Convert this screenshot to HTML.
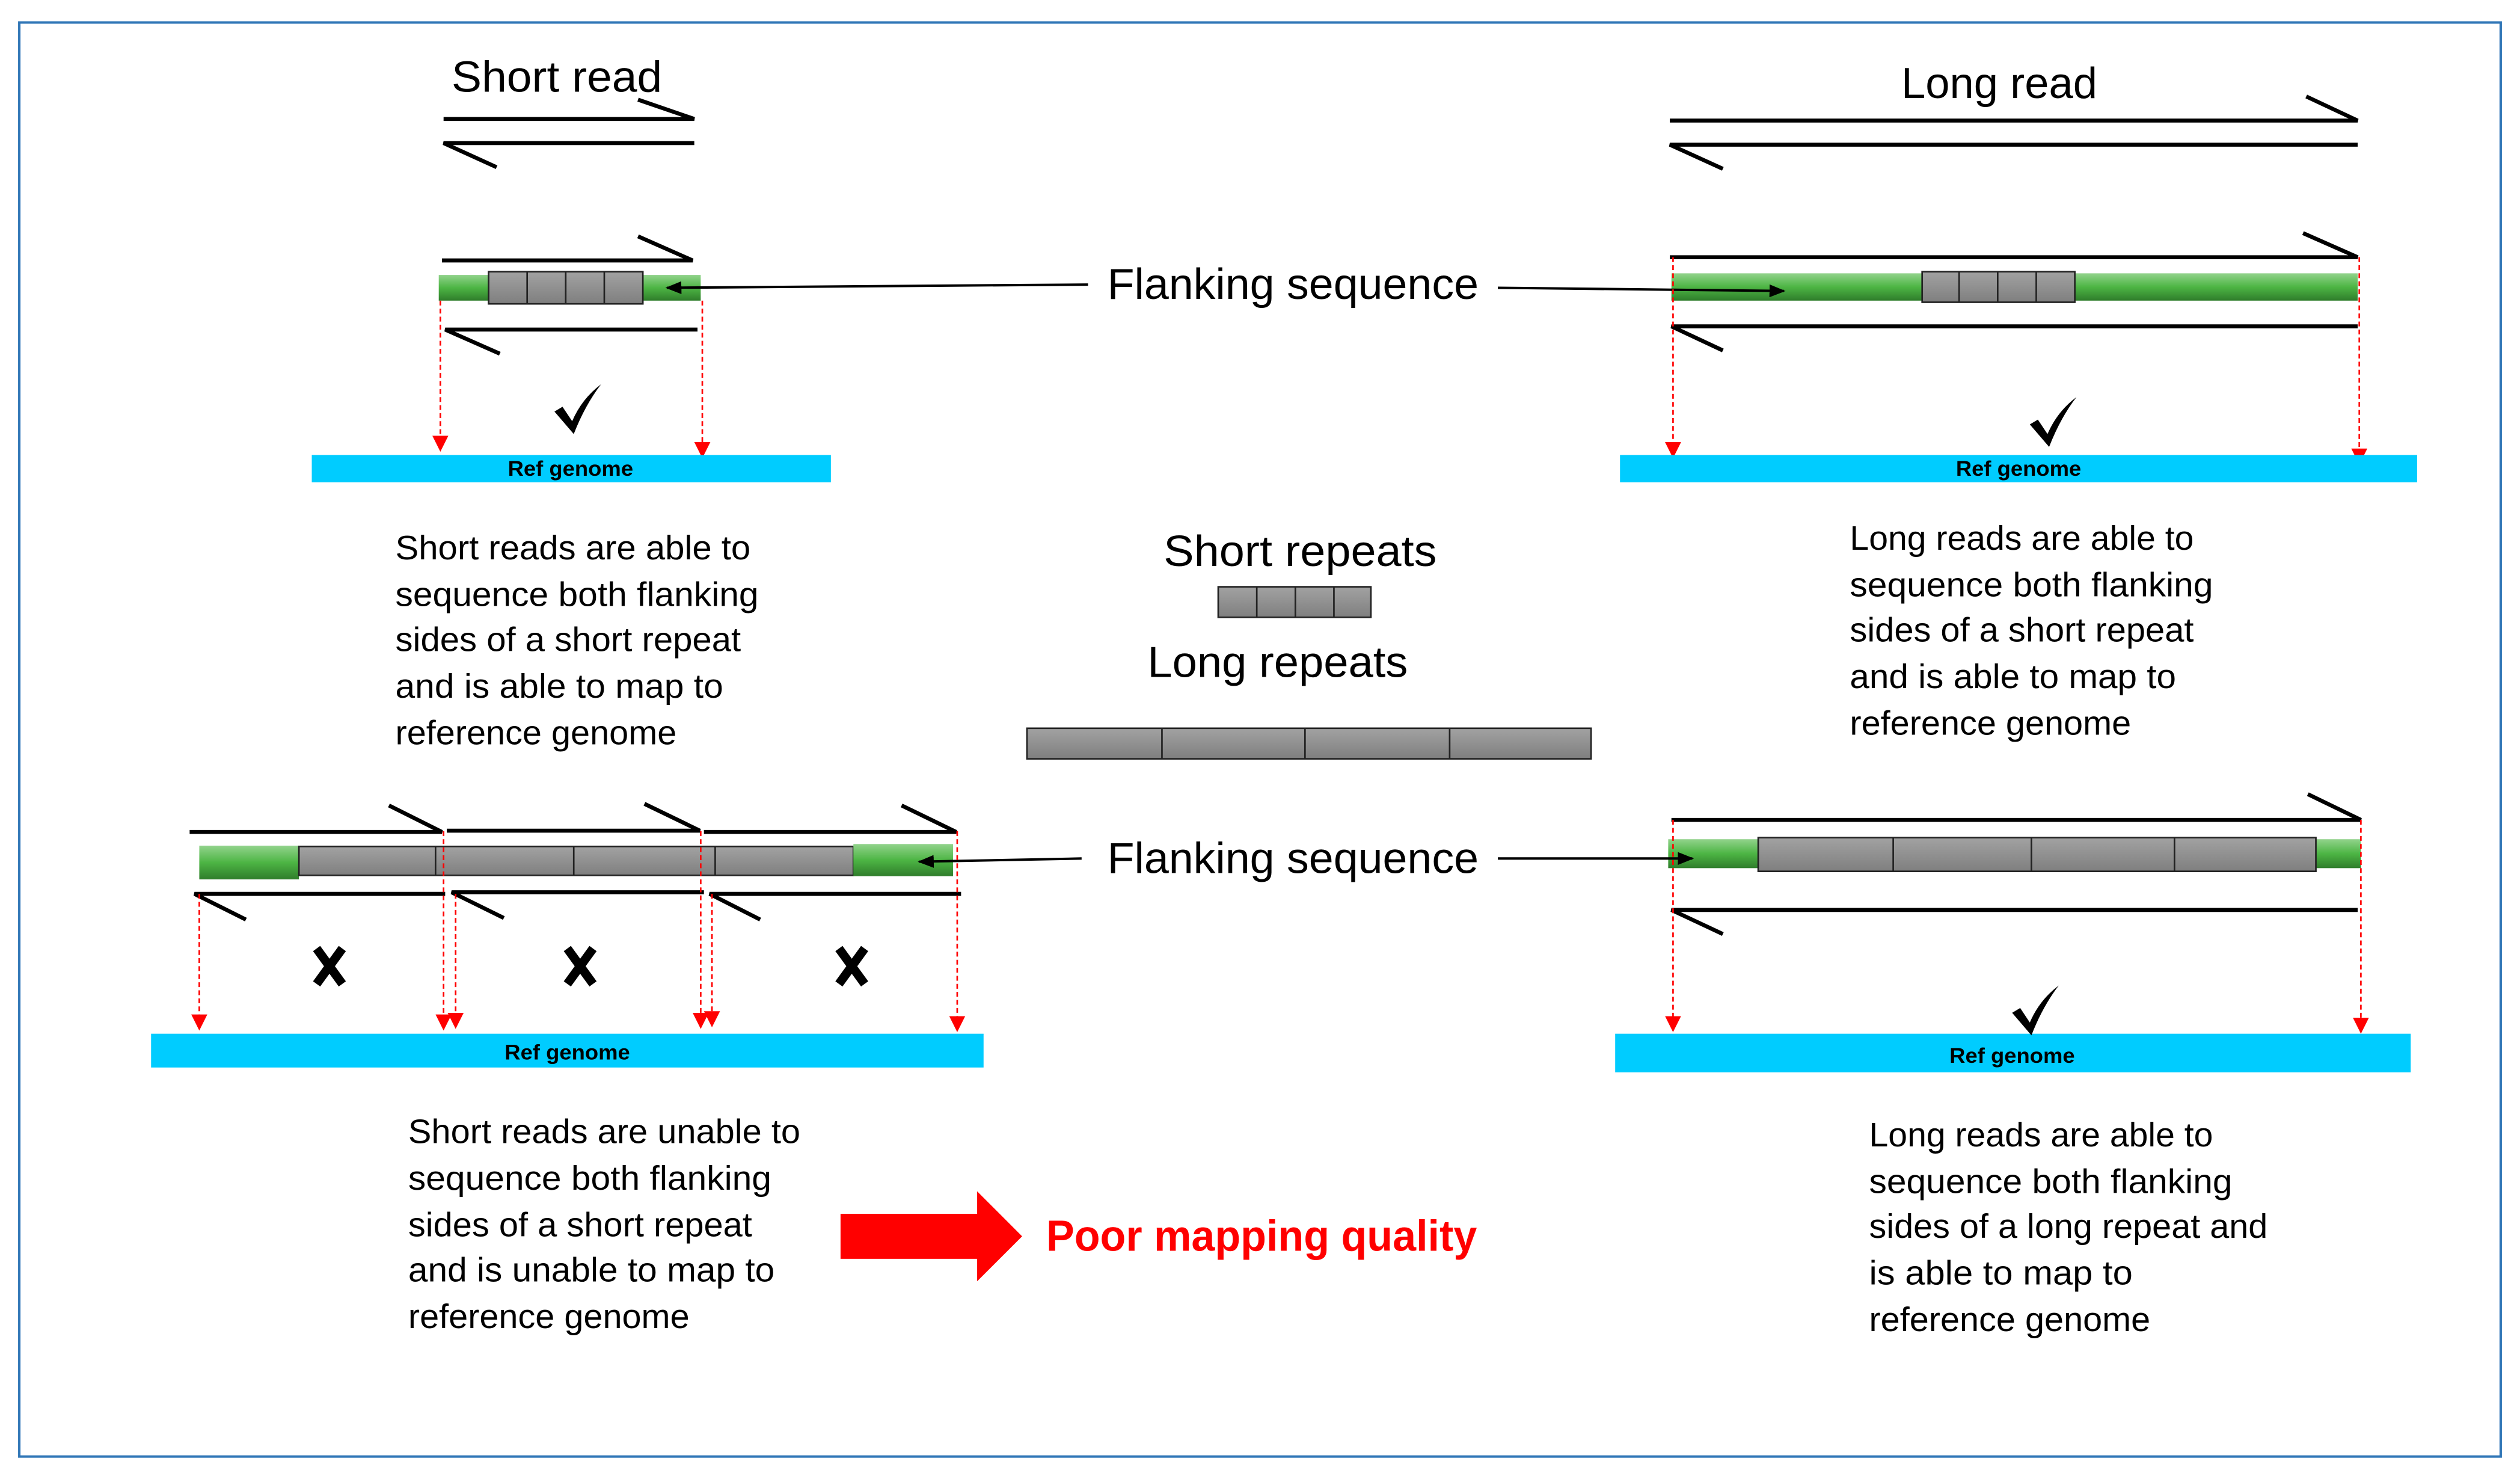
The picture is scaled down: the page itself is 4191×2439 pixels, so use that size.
<!DOCTYPE html>
<html><head><meta charset="utf-8"><style>html,body{margin:0;padding:0;background:#fff}svg{display:block}</style></head><body>
<svg width="4191" height="2439" viewBox="0 0 1568 912.5" preserveAspectRatio="none" xmlns="http://www.w3.org/2000/svg" font-family="Liberation Sans, sans-serif">
<defs>
<linearGradient id="g" x1="0" y1="0" x2="0" y2="1"><stop offset="0" stop-color="#92d38c"/><stop offset="0.5" stop-color="#4db544"/><stop offset="1" stop-color="#2f7d2b"/></linearGradient>
<linearGradient id="k" x1="0" y1="0" x2="0" y2="1"><stop offset="0" stop-color="#a2a2a2"/><stop offset="1" stop-color="#7f7f7f"/></linearGradient>
<marker id="ab" markerWidth="10" markerHeight="8" refX="9" refY="4" orient="auto" markerUnits="userSpaceOnUse"><path d="M0,0 L10,4 L0,8 Z" fill="#000"/></marker>
<marker id="ar" markerWidth="10" markerHeight="10" refX="5" refY="9" orient="0" markerUnits="userSpaceOnUse"><path d="M0,0 L10,0 L5,10 Z" fill="#f00"/></marker>
</defs>
<rect x="12" y="14" width="1544" height="892" fill="none" stroke="#2e75b6" stroke-width="1.5"/>

<g stroke="#000" stroke-width="2.5" fill="none">
<!-- short read legend -->
<path d="M276,74 H432 L397,62"/><path d="M432,89 H276 L309,104"/>
<!-- long read legend -->
<path d="M1039,75 H1467 L1435,60"/><path d="M1467,90 H1039 L1072,105"/>
<!-- top-left reads -->
<path d="M275,162 H431 L397,147"/><path d="M434,205 H277 L311,220"/>
<!-- top-right reads -->
<path d="M1039,160 H1467 L1433,145"/><path d="M1467,203 H1040 L1072,218"/>
<!-- bottom-left reads -->
<path d="M118,517.5 H275 L242,501"/><path d="M278,516.7 H435.5 L401,500"/><path d="M438,517.5 H595 L561,501"/>
<path d="M277,556 H121 L153,572"/><path d="M438,555 H281 L313.5,571"/><path d="M598,556 H441.5 L473,572"/>
<!-- bottom-right reads -->
<path d="M1040,510 H1469 L1436,494"/><path d="M1467,566 H1040 L1072,581"/>
</g>

<!-- bars -->
<rect x="273" y="171" width="163" height="16" fill="url(#g)"/>
<g fill="url(#k)" stroke="#222" stroke-width="1"><rect x="304" y="169" width="96" height="20"/></g>
<g stroke="#222" stroke-width="1"><path d="M328,169V189M352,169V189M376,169V189"/></g>

<rect x="1040" y="170" width="427" height="17" fill="url(#g)"/>
<rect x="1196" y="169" width="95" height="19" fill="url(#k)" stroke="#222" stroke-width="1"/>
<g stroke="#222" stroke-width="1"><path d="M1219,169V188M1243,169V188M1267,169V188"/></g>

<rect x="758" y="365" width="95" height="19" fill="url(#k)" stroke="#222" stroke-width="1"/>
<g stroke="#222" stroke-width="1"><path d="M782,365V384M806,365V384M830,365V384"/></g>
<rect x="639" y="453" width="351" height="19" fill="url(#k)" stroke="#222" stroke-width="1"/>
<g stroke="#222" stroke-width="1"><path d="M723,453V472M812,453V472M902,453V472"/></g>

<rect x="124" y="526" width="62" height="21" fill="url(#g)"/>
<rect x="186" y="526.5" width="345" height="18" fill="url(#k)" stroke="#222" stroke-width="1"/>
<rect x="531" y="525" width="62" height="20" fill="url(#g)"/>
<g stroke="#222" stroke-width="1"><path d="M271,526.5V544.5M357,526.5V544.5M445,526.5V544.5"/></g>

<rect x="1038" y="522" width="431" height="18" fill="url(#g)"/>
<rect x="1094" y="521" width="347" height="21" fill="url(#k)" stroke="#222" stroke-width="1"/>
<g stroke="#222" stroke-width="1"><path d="M1178,521V542M1264,521V542M1353,521V542"/></g>

<!-- black connectors -->
<g stroke="#000" stroke-width="1.5">
<line x1="677" y1="177" x2="415" y2="179" marker-end="url(#ab)"/>
<line x1="932" y1="179" x2="1110" y2="181" marker-end="url(#ab)"/>
<line x1="673" y1="534" x2="572" y2="536" marker-end="url(#ab)"/>
<line x1="932" y1="534" x2="1053" y2="534" marker-end="url(#ab)"/>
</g>

<!-- red dashed -->
<g stroke="#f00" stroke-width="1" stroke-dasharray="3,2" fill="none">
<line x1="274" y1="187" x2="274" y2="280" marker-end="url(#ar)"/>
<line x1="437" y1="187" x2="437" y2="284" marker-end="url(#ar)"/>
<line x1="1041" y1="160" x2="1041" y2="284" marker-end="url(#ar)"/>
<line x1="1468" y1="160" x2="1468" y2="288" marker-end="url(#ar)"/>
<line x1="124" y1="556" x2="124" y2="640" marker-end="url(#ar)"/>
<line x1="276" y1="517" x2="276" y2="640" marker-end="url(#ar)"/>
<line x1="283.5" y1="556" x2="283.5" y2="639" marker-end="url(#ar)"/>
<line x1="436" y1="517" x2="436" y2="639" marker-end="url(#ar)"/>
<line x1="443" y1="556" x2="443" y2="638" marker-end="url(#ar)"/>
<line x1="595.6" y1="517" x2="595.6" y2="641" marker-end="url(#ar)"/>
<line x1="1041" y1="510" x2="1041" y2="641" marker-end="url(#ar)"/>
<line x1="1469" y1="510" x2="1469" y2="642" marker-end="url(#ar)"/>
</g>

<!-- ref genome bars -->
<g fill="#00ccff"><rect x="194" y="283" width="323" height="17"/><rect x="1008" y="283" width="496" height="17"/><rect x="94" y="643" width="518" height="21"/><rect x="1005" y="643" width="495" height="24"/></g>
<g font-size="13" font-weight="bold" fill="#000" text-anchor="middle">
<text x="355" y="296" textLength="78" lengthAdjust="spacingAndGlyphs">Ref genome</text>
<text x="1256" y="296" textLength="78" lengthAdjust="spacingAndGlyphs">Ref genome</text>
<text x="353" y="659" textLength="78" lengthAdjust="spacingAndGlyphs">Ref genome</text>
<text x="1252" y="661" textLength="78" lengthAdjust="spacingAndGlyphs">Ref genome</text>
</g>

<!-- checks -->
<g fill="#000">
<path d="M345,256 L350,253 L356,262 Q362,248 374,239 Q364,252 357,270 Z"/>
<path d="M1263,264 L1268,261 L1274,270 Q1280,256 1292,247 Q1282,260 1275,278 Z"/>
<path d="M1252,630 L1257,627 L1263,636 Q1269,622 1281,613 Q1271,626 1264,644 Z"/>
</g>
<!-- X marks -->
<g stroke="#000" stroke-width="5.5" stroke-linecap="butt">
<path d="M197,590 L213,612 M213,590 L197,612"/>
<path d="M353,590 L369,612 M369,590 L353,612"/>
<path d="M522,590 L538,612 M538,590 L522,612"/>
</g>

<!-- red big arrow -->
<path d="M523,755 H608 V741 L636,769 L608,797 V783 H523 Z" fill="#f00"/>

<!-- headings -->
<g font-size="27" fill="#000">
<text x="281" y="57" textLength="131" lengthAdjust="spacingAndGlyphs">Short read</text>
<text x="1183" y="61" textLength="122" lengthAdjust="spacingAndGlyphs">Long read</text>
<text x="689" y="186" textLength="231" lengthAdjust="spacingAndGlyphs">Flanking sequence</text>
<text x="689" y="543" textLength="231" lengthAdjust="spacingAndGlyphs">Flanking sequence</text>
<text x="724" y="352" textLength="170" lengthAdjust="spacingAndGlyphs">Short repeats</text>
<text x="714" y="421" textLength="162" lengthAdjust="spacingAndGlyphs">Long repeats</text>
</g>
<text x="651" y="778" font-size="27" font-weight="bold" fill="#f00" textLength="268" lengthAdjust="spacingAndGlyphs">Poor mapping quality</text>

<!-- body text -->
<g font-size="21" fill="#000" lengthAdjust="spacingAndGlyphs">
<text x="246" y="348" textLength="221" lengthAdjust="spacingAndGlyphs">Short reads are able to</text>
<text x="246" y="377" textLength="226" lengthAdjust="spacingAndGlyphs">sequence both flanking</text>
<text x="246" y="405" textLength="215" lengthAdjust="spacingAndGlyphs">sides of a short repeat</text>
<text x="246" y="434" textLength="204" lengthAdjust="spacingAndGlyphs">and is able to map to</text>
<text x="246" y="463" textLength="175" lengthAdjust="spacingAndGlyphs">reference genome</text>

<text x="1151" y="342" textLength="214" lengthAdjust="spacingAndGlyphs">Long reads are able to</text>
<text x="1151" y="371" textLength="226" lengthAdjust="spacingAndGlyphs">sequence both flanking</text>
<text x="1151" y="399" textLength="214" lengthAdjust="spacingAndGlyphs">sides of a short repeat</text>
<text x="1151" y="428" textLength="203" lengthAdjust="spacingAndGlyphs">and is able to map to</text>
<text x="1151" y="457" textLength="175" lengthAdjust="spacingAndGlyphs">reference genome</text>

<text x="254" y="711" textLength="244" lengthAdjust="spacingAndGlyphs">Short reads are unable to</text>
<text x="254" y="740" textLength="226" lengthAdjust="spacingAndGlyphs">sequence both flanking</text>
<text x="254" y="769" textLength="214" lengthAdjust="spacingAndGlyphs">sides of a short repeat</text>
<text x="254" y="797" textLength="228" lengthAdjust="spacingAndGlyphs">and is unable to map to</text>
<text x="254" y="826" textLength="175" lengthAdjust="spacingAndGlyphs">reference genome</text>

<text x="1163" y="713" textLength="214" lengthAdjust="spacingAndGlyphs">Long reads are able to</text>
<text x="1163" y="742" textLength="226" lengthAdjust="spacingAndGlyphs">sequence both flanking</text>
<text x="1163" y="770" textLength="248" lengthAdjust="spacingAndGlyphs">sides of a long repeat and</text>
<text x="1163" y="799" textLength="164" lengthAdjust="spacingAndGlyphs">is able to map to</text>
<text x="1163" y="828" textLength="175" lengthAdjust="spacingAndGlyphs">reference genome</text>
</g>
</svg>
</body></html>
